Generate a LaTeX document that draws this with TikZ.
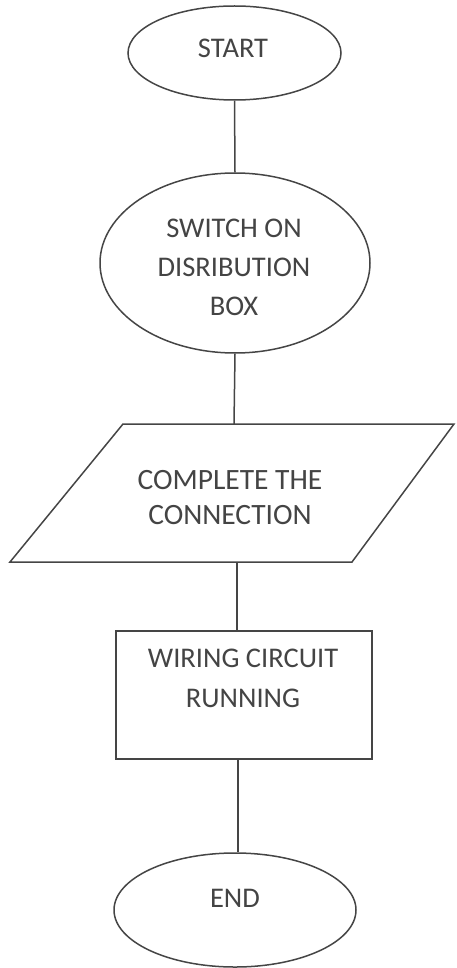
\documentclass[tikz,border=0pt]{standalone}
\usepackage{fontspec}
\setmainfont{Carlito}
\usetikzlibrary{shapes.geometric}
\definecolor{inkline}{HTML}{454545}
\definecolor{inktext}{HTML}{444444}
\begin{document}
\begin{tikzpicture}[x=1pt,y=-1pt,
  outline/.style={draw=inkline,line width=1.5pt},
  oval/.style={outline,ellipse,inner sep=0pt},
  label/.style={text=inktext,align=center,inner sep=0pt,font=\fontsize{28.5}{39}\selectfont},
  link/.style={draw=inkline,line width=1.5pt}]
\useasboundingbox (0,0) rectangle (456,968);
% shapes
\node[oval,minimum width=213pt,minimum height=94pt] (start) at (234.5,53) {};
\node[oval,minimum width=270pt,minimum height=180pt] (switch) at (235,263) {};
\draw[outline,line join=miter] (123,424) coordinate (pTL) -- (454,424) coordinate (pTR)
  -- (352,562) coordinate (pBR) -- (10,562) coordinate (pBL) -- cycle;
\coordinate (ptop) at (234,424);
\coordinate (pbot) at (237,562);
\node[outline,rectangle,minimum width=256pt,minimum height=128pt,inner sep=0pt] (run) at (244,695) {};
\node[oval,minimum width=242pt,minimum height=114pt] (end) at (235,910) {};
% texts
\node[label] (tstart) at (233,48) {START};
\node[label] (tswitch) at (234,267.5) {SWITCH ON\\DISRIBUTION\\BOX};
\node[label,font=\fontsize{29.5}{35}\selectfont] (tconn) at (230,498) {COMPLETE THE\\CONNECTION};
\node[label,font=\fontsize{28.5}{40}\selectfont] (trun) at (243,678) {WIRING CIRCUIT\\RUNNING};
\node[label] (tend) at (235,898) {END};
% connectors
\draw[link] (start.south) -- (switch.north);
\draw[link] (switch.south) -- (ptop);
\draw[link] (pbot) -- (pbot |- run.north);
\draw[link] (run.south -| end.north) ++(3,0) coordinate (rb) -- (rb |- end.north);
\end{tikzpicture}
\end{document}
